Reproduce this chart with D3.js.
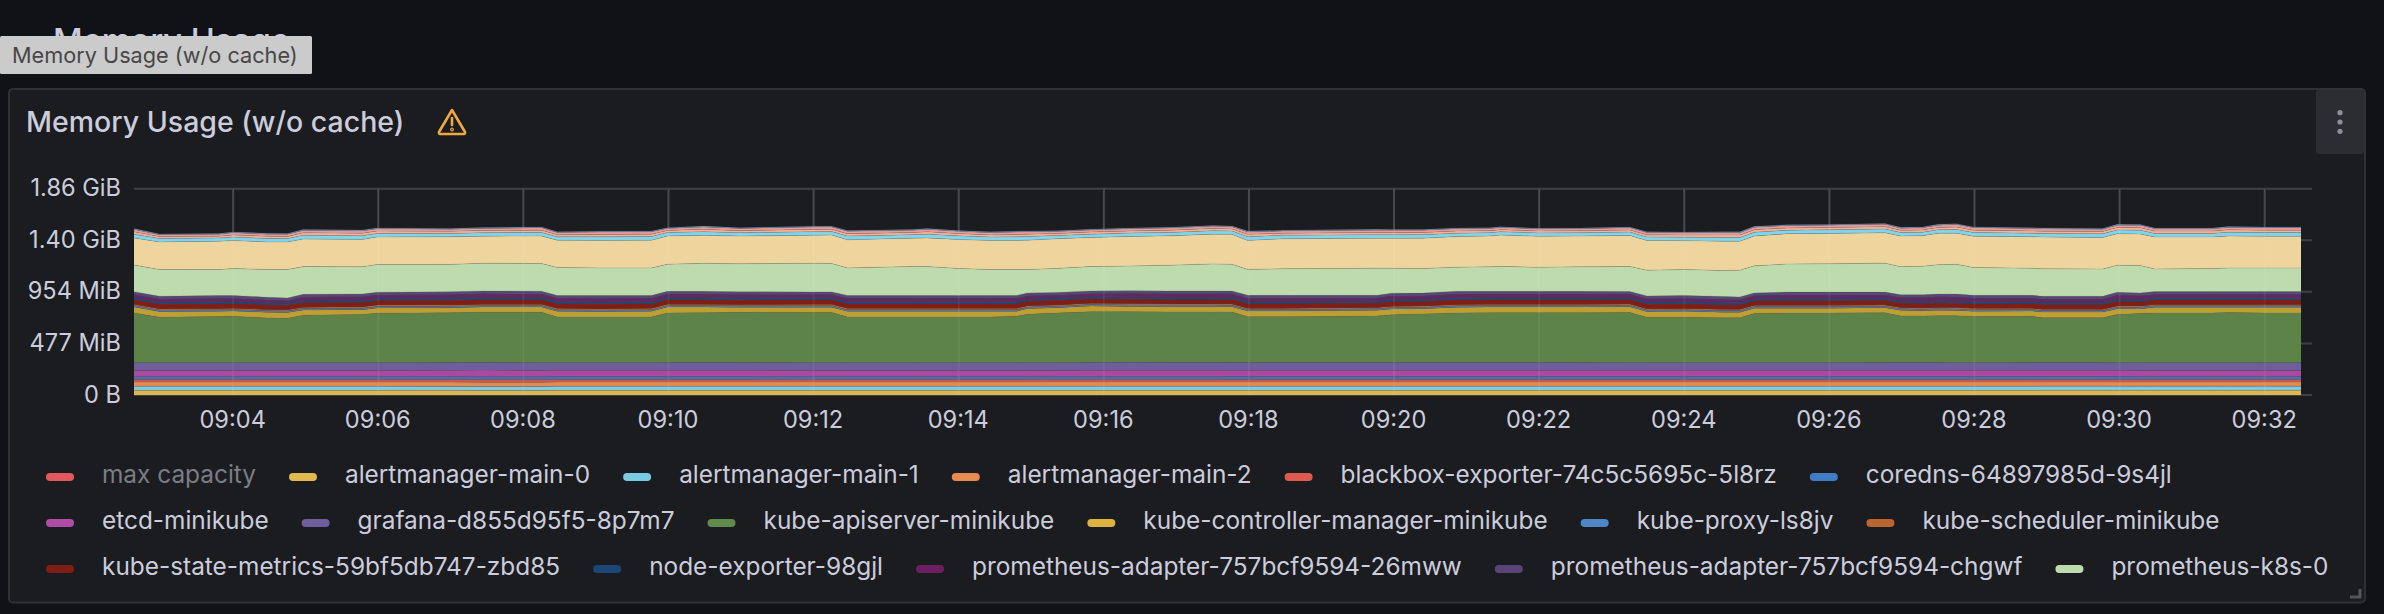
<!DOCTYPE html>
<html><head><meta charset="utf-8">
<style>html,body{margin:0;padding:0;background:#111217;overflow:hidden}svg{display:block}text{font-family:Inter,"Noto Sans",sans-serif}</style>
<script src="https://cdn.jsdelivr.net/npm/d3@7"></script>
</head><body><svg id="c" width="2384" height="614"></svg>
<script>
// Seconds after 09:00:00
const times=[158,179,228,240,268,285,298,347,359,419,446,495,508,543,586,599,629,659,720,735,748,802,814,839,866,888,897,921,949,982,1015,1050,1066,1079,1108,1186,1198,1224,1252,1279,1288,1319,1354,1395,1409,1440,1472,1486,1498,1525,1558,1606,1619,1637,1650,1665,1679,1728,1736,1786,1798,1817,1829,1877,1890,1920,1950];
// Values in MiB, stack order bottom to top
const alertmanager0=[43,43,43,43,43,43,43,43,43,43,42,42,43,43,43,43,43,43,43,43,43,43,43,43,43,43,43,43,43,43,43,43,43,43,43,43,43,43,43,43,43,43,43,43,43,43,43,43,43,43,43,43,43,43,43,43,43,43,44,44,44,44,44,44,44,44,44];
const alertmanager1=[37,37,37,37,37,37,37,37,37,36,36,36,37,37,37,37,38,38,37,37,37,37,37,37,37,37,37,38,38,38,38,38,38,38,38,38,38,38,38,38,38,38,38,37,37,37,37,37,38,38,38,38,38,38,38,38,38,38,38,38,37,37,37,37,37,37,37];
const alertmanager2=[40,40,40,40,40,40,40,40,40,41,41,41,41,41,41,41,40,40,40,40,40,40,40,40,40,40,40,40,40,40,40,40,40,40,40,40,40,40,40,40,40,40,40,41,41,41,41,41,40,40,40,40,40,40,40,40,40,40,39,39,39,39,39,39,39,39,39];
const blackboxExporter=[25,25,25,25,25,25,25,25,25,25,26,26,25,25,25,25,25,25,25,25,25,25,25,25,25,25,25,25,25,25,25,25,25,25,25,25,25,25,25,25,25,25,25,25,25,25,25,25,25,25,25,25,25,25,25,25,25,25,25,25,25,25,25,25,25,25,25];
const coredns=[24,24,24,24,24,24,24,24,24,24,24,24,24,24,24,24,24,24,24,24,24,24,24,24,24,24,24,23,23,23,23,23,24,24,24,24,24,24,24,24,24,24,24,24,24,24,24,24,24,24,24,24,24,24,24,24,24,25,25,25,25,24,24,24,24,24,24];
const etcd=[58,58,58,58,58,58,58,58,58,60,61,58,58,58,58,58,58,58,58,58,58,58,58,58,58,58,58,58,59,60,60,60,58,58,58,58,58,58,58,58,58,58,58,58,58,58,58,58,58,58,58,58,58,58,58,58,58,58,58,58,58,58,58,58,58,58,58];
const grafana=[71,71,71,71,71,71,71,71,71,71,71,71,71,71,71,72,72,72,72,72,72,72,72,72,72,72,72,72,72,74,72,72,72,72,72,72,72,72,72,72,72,72,72,71,70,70,71,71,71,71,71,72,72,72,72,71,71,71,71,71,71,71,71,71,71,71,71];
const kubeApiserver=[460,421,427,430,414,411,439,446,458,460,464,467,423,423,423,458,460,464,464,464,423,423,423,423,423,430,448,458,470,467,467,467,467,423,423,430,442,448,458,460,460,460,460,464,421,421,414,414,455,458,458,460,430,430,433,433,427,427,414,414,446,455,460,460,464,460,460];
const kubeControllerManager=[55,53,49,49,53,53,49,45,49,46,49,49,53,50,53,55,53,46,49,49,53,53,53,53,53,46,53,49,53,49,49,49,49,53,53,53,53,49,53,53,53,53,53,52,53,55,53,53,49,46,46,46,53,49,50,50,49,49,53,53,52,43,53,53,49,53,53];
const kubeProxy=[14,14,14,14,14,14,14,14,14,14,14,14,14,14,14,14,14,14,14,14,14,14,14,14,14,14,14,14,14,14,14,14,14,14,14,14,14,14,14,14,14,14,14,14,14,14,14,14,14,14,14,14,14,14,14,14,14,14,14,14,14,14,14,14,14,14,14];
const kubeScheduler=[12,12,12,12,12,12,12,12,12,12,12,12,12,12,12,12,12,12,12,12,12,12,12,12,12,12,12,12,12,12,12,12,12,12,12,12,12,12,12,12,12,12,12,12,12,12,12,12,12,12,12,12,12,12,12,12,12,12,12,12,12,12,12,12,12,12,12];
const kubeStateMetrics=[43,43,43,43,43,43,43,43,43,43,43,43,43,43,43,43,43,43,43,43,43,43,43,43,43,43,43,43,43,43,43,43,43,43,43,43,43,43,43,43,43,43,43,43,43,43,43,43,43,43,43,43,43,43,43,43,43,43,43,43,43,43,43,43,43,43,43];
const nodeExporter=[16,16,16,16,16,16,16,16,16,16,16,16,16,16,16,16,16,16,16,16,16,16,16,16,16,16,16,16,16,16,16,16,16,16,16,16,16,16,16,16,16,16,16,16,16,16,16,16,16,16,16,16,16,16,16,16,16,16,16,16,16,16,16,16,16,16,16];
const prometheusAdapter1=[31,30,34,31,28,24,34,34,34,37,37,34,34,37,34,34,34,33,30,30,34,34,34,34,34,34,33,31,28,34,34,34,34,34,34,28,34,34,37,34,34,34,34,31,33,34,34,30,30,37,37,34,33,37,40,40,37,34,34,34,41,37,34,34,34,34,34];
const prometheusAdapter2=[26,26,26,26,26,26,26,26,26,26,26,26,26,26,26,26,26,26,26,26,26,26,26,26,26,26,26,26,26,26,26,26,26,26,26,26,26,26,26,26,26,26,26,26,26,26,26,26,26,26,26,26,26,26,26,26,26,26,26,26,26,26,26,26,26,26,26];
const prometheusK8s0=[246,247,240,250,256,263,256,252,256,253,256,256,259,255,255,250,259,259,265,263,255,268,268,250,240,240,216,222,225,228,238,250,247,240,246,250,231,228,222,227,231,222,227,231,238,240,240,247,250,259,262,268,259,263,271,275,256,250,255,252,250,253,209,213,218,218,218];
const prometheusK8s1=[250,255,262,259,255,255,255,252,255,255,250,255,252,253,256,262,259,256,259,262,259,262,264,268,268,268,271,274,268,274,271,275,277,268,277,277,277,280,283,284,289,287,284,287,275,268,271,268,275,280,281,280,284,283,290,287,289,292,293,293,292,292,296,292,296,293,293];
const upperCyan=[35,31,30,32,32,32,35,35,33,32,32,33,31,34,34,31,34,31,33,33,35,32,35,33,32,34,34,31,32,32,32,32,31,34,32,33,33,32,32,31,31,31,31,31,32,32,34,34,36,33,33,35,32,32,33,35,34,33,33,33,35,35,33,33,35,34,34];
const upperOrange=[22,18,17,20,20,19,22,22,21,19,20,21,19,22,22,19,22,19,21,21,22,20,22,21,20,22,22,18,19,19,20,20,19,22,19,21,21,20,20,19,19,18,18,19,20,20,22,22,23,21,21,22,20,20,21,23,22,21,21,21,22,22,21,21,22,22,22];
const upperRed=[22,18,17,20,20,20,22,22,21,20,20,21,20,22,22,20,22,20,21,21,22,20,22,21,20,22,22,18,20,20,20,20,20,22,20,21,21,20,20,20,20,18,18,20,20,20,22,22,23,21,21,22,20,20,21,23,22,21,21,21,22,22,21,21,22,22,22];
const upperBlue=[8,7,7,7,8,7,8,8,8,7,8,8,7,8,8,7,8,7,8,8,8,8,8,8,8,8,8,7,7,7,8,8,7,8,7,8,8,8,8,7,7,7,7,7,8,8,8,8,8,8,8,8,8,8,8,8,8,8,8,8,8,8,8,8,8,8,8];

const seriesValues=[alertmanager0,alertmanager1,alertmanager2,blackboxExporter,coredns,etcd,grafana,kubeApiserver,kubeControllerManager,kubeProxy,kubeScheduler,kubeStateMetrics,nodeExporter,prometheusAdapter1,prometheusAdapter2,prometheusK8s0,prometheusK8s1,upperCyan,upperOrange,upperRed,upperBlue];
const seriesColors=["#E0B64F","#7FCBDF","#E28A51","#C95A4F","#3D77B8","#A94AA0","#6F5D9C","#5D8349","#BF9F32","#56789F","#B5652F","#801D14","#1C4676","#5F2861","#564872","#BEDBAE","#EED59D","#80D5EC","#F2B596","#E99C98","#7F9FBF"];
const legendNames=["max capacity","alertmanager-main-0","alertmanager-main-1","alertmanager-main-2","blackbox-exporter-74c5c5695c-5l8rz","coredns-64897985d-9s4jl","etcd-minikube","grafana-d855d95f5-8p7m7","kube-apiserver-minikube","kube-controller-manager-minikube","kube-proxy-ls8jv","kube-scheduler-minikube","kube-state-metrics-59bf5db747-zbd85","node-exporter-98gjl","prometheus-adapter-757bcf9594-26mww","prometheus-adapter-757bcf9594-chgwf","prometheus-k8s-0"];
const legendColors=["#E5575F","#E0B94F","#78CBE0","#E88B51","#DE5A50","#3F7EC5","#AE4CA6","#6F5D9C","#5F8B4C","#DDB23F","#4F86C6","#B8652F","#801D14","#1C4676","#6D1F62","#584477","#BEDBAE"];
const legendRows=[6,6,5];
const yTicks=[0,477,954,1431,1907];
const yLabels=["0 B","477 MiB","954 MiB","1.40 GiB","1.86 GiB"];
const xTicks=[240,360,480,600,720,840,960,1080,1200,1320,1440,1560,1680,1800,1920];
const xLabels=["09:04","09:06","09:08","09:10","09:12","09:14","09:16","09:18","09:20","09:22","09:24","09:26","09:28","09:30","09:32"];
const panelTitle="Memory Usage (w/o cache)";
const pageHeading="Memory Usage";

const svg=d3.select("#c");
const TXT="#CCCCDC";
const plotLeft=134,plotRight=2301,plotTop=188.7,plotBottom=395;
const xScale=d3.scaleLinear().domain([158,1950]).range([plotLeft,plotRight]);
const yScale=d3.scaleLinear().domain([0,1907]).range([plotBottom,plotTop]);

// Page heading: only its top edge shows, the rest lies under the tooltip
svg.append("clipPath").attr("id","headClip").append("rect").attr("x",0).attr("y",0).attr("width",2384).attr("height",36);
svg.append("g").attr("clip-path","url(#headClip)").append("text").attr("x",53).attr("y",52).attr("fill",TXT).attr("font-size",32.5).attr("font-weight",500).text(pageHeading);
// Tooltip
svg.append("rect").attr("x",0).attr("y",36).attr("width",312).attr("height",38).attr("rx",1.5).attr("fill","#CBCBCB");
svg.append("text").attr("x",12).attr("y",55).attr("dy","0.35em").attr("fill","#474747").attr("font-size",21.7).text(panelTitle);

// Panel
svg.append("rect").attr("x",9).attr("y",89).attr("width",2356).attr("height",513.5).attr("rx",4).attr("fill","#1A1C20").attr("stroke","#2F3136").attr("stroke-width",2);
svg.append("text").attr("x",26).attr("y",122).attr("dy","0.35em").attr("fill",TXT).attr("font-size",28.5).attr("font-weight",500).text(panelTitle);

// Warning icon
const warn=svg.append("g").attr("transform","translate(452,122)").attr("fill","none").attr("stroke","#EFA93F").attr("stroke-width",2.6).attr("stroke-linecap","round").attr("stroke-linejoin","round");
warn.append("path").attr("d","M0,-12 L13,10 Q13.5,12 11,12 L-11,12 Q-13.5,12 -13,10 Z");
warn.append("path").attr("d","M0,-4 L0,3");
warn.append("circle").attr("cx",0).attr("cy",7.5).attr("r",.6);

// Menu button
svg.append("rect").attr("x",2316).attr("y",90).attr("width",48).attr("height",64).attr("rx",3).attr("fill","#2C2D32");
svg.selectAll(".dot").data([-1,0,1]).join("circle").attr("class","dot").attr("cx",2340).attr("cy",d=>122+d*9.3).attr("r",2.6).attr("fill","#8F8F9B");

// Resize handle
svg.append("path").attr("d","M2360,589 V597 H2350").attr("fill","none").attr("stroke","#55565B").attr("stroke-width",3);

// Grid
const grid=svg.append("g").attr("stroke","#3E4045").attr("stroke-width",2);
grid.selectAll(".h").data(yTicks).join("line").attr("class","h").attr("x1",plotLeft).attr("x2",2312).attr("y1",d=>yScale(d)).attr("y2",d=>yScale(d));
grid.selectAll(".v").data(xTicks).join("line").attr("class","v").attr("x1",d=>xScale(d)).attr("x2",d=>xScale(d)).attr("y1",plotTop).attr("y2",plotBottom);

// Stacked areas
const rows=times.map((t,i)=>{const r={t};seriesValues.forEach((s,k)=>r[k]=s[i]);return r;});
const stacked=d3.stack().keys(seriesValues.map((_,k)=>k))(rows);
const areaGen=d3.area().x(d=>xScale(d.data.t)).y0(d=>yScale(d[0])).y1(d=>yScale(d[1]));
const lineGen=d3.line().x(d=>xScale(d.data.t)).y(d=>yScale(d[1]));
svg.append("g").selectAll("path").data(stacked).join("path").attr("d",areaGen).attr("fill",(d,i)=>seriesColors[i]);
svg.append("g").selectAll("path").data(stacked).join("path").attr("d",lineGen).attr("fill","none").attr("stroke","#5A5F70").attr("stroke-opacity",.22).attr("stroke-width",1);

// Faint grid through the areas
svg.append("g").attr("stroke","#FFFFFF").attr("stroke-opacity",.05).attr("stroke-width",2).selectAll("line").data(xTicks).join("line").attr("x1",d=>xScale(d)).attr("x2",d=>xScale(d)).attr("y1",plotTop).attr("y2",plotBottom);

// Axes (labels only, the grid above draws the lines)
const ya=svg.append("g").attr("transform","translate(121,0)").call(d3.axisLeft(yScale).tickValues(yTicks).tickSize(0).tickPadding(0).tickFormat((d,i)=>yLabels[i]));
const xa=svg.append("g").attr("transform","translate(-1,420)").call(d3.axisBottom(xScale).tickValues(xTicks).tickSize(0).tickPadding(0).tickFormat((d,i)=>xLabels[i]));
ya.select(".domain").remove();xa.select(".domain").remove();
ya.selectAll("text").attr("fill",TXT).attr("font-size",23.6).attr("font-family",'Inter,"Noto Sans",sans-serif').attr("dy","0.3em");
xa.selectAll("text").attr("fill",TXT).attr("font-size",23.6).attr("font-family",'Inter,"Noto Sans",sans-serif').attr("dy","0.35em").attr("y",0);

// Legend
let idx=0;
const rowY=[474,520,566];
legendRows.forEach((n,r)=>{
  let cx=46;
  for(let j=0;j<n;j++,idx++){
    const g=svg.append("g");
    g.append("rect").attr("x",cx).attr("y",rowY[r]-1).attr("width",28).attr("height",8).attr("rx",4).attr("fill",legendColors[idx]);
    const t=g.append("text").attr("x",cx+56).attr("y",rowY[r]).attr("dy","0.35em").attr("font-size",24.4).attr("fill",idx===0?"#7B7C85":TXT).text(legendNames[idx]);
    cx+=56+t.node().getComputedTextLength()+33;
  }
});
</script></body></html>
